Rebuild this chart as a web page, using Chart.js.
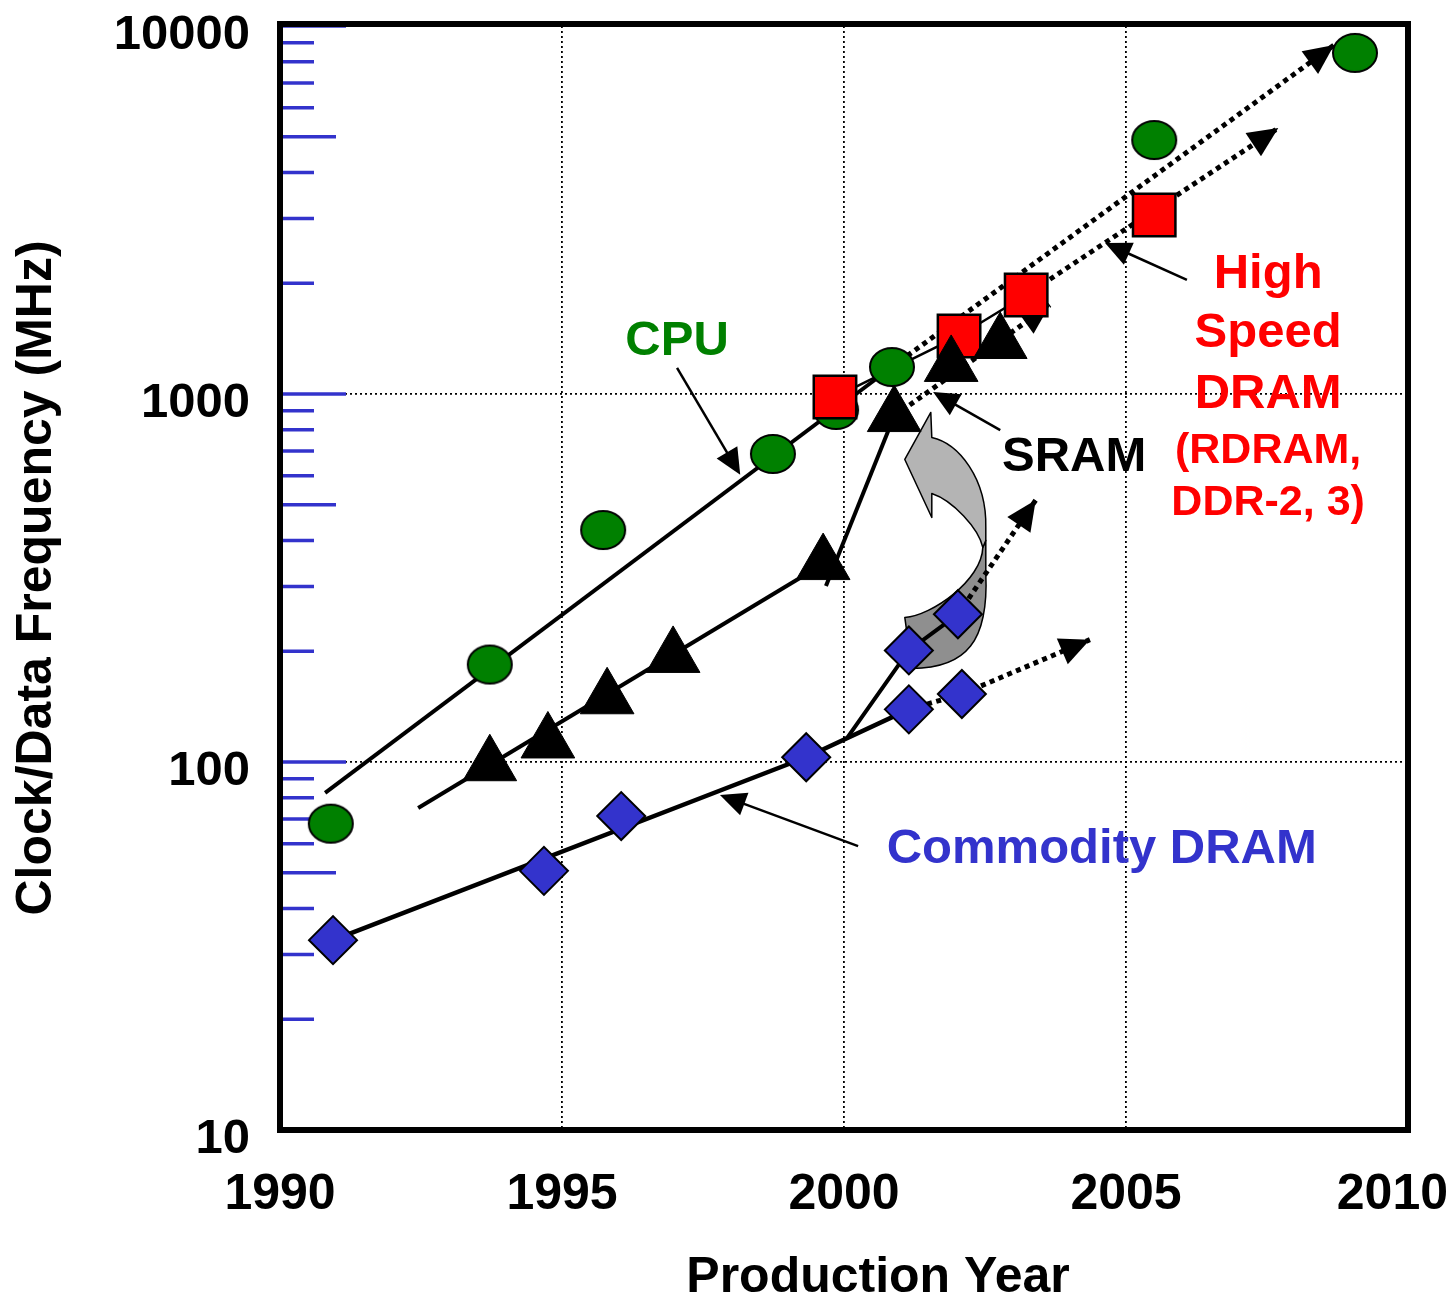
<!DOCTYPE html>
<html>
<head>
<meta charset="utf-8">
<script src="https://cdn.jsdelivr.net/npm/chart.js@4.4.1/dist/chart.umd.min.js"></script>
<style>
  html, body { margin: 0; padding: 0; background: #fff; }
  #wrap { width: 1451px; height: 1311px; position: relative; }
</style>
</head>
<body>
<div id="wrap"><canvas id="chart"></canvas></div>
<script>
// Frequência de clock/dados por ano de produção (escala log), CPU x SRAM x DRAM.
const yearTicks = [1990, 1995, 2000, 2005, 2010];
const freqTicks = [10, 100, 1000, 10000];
const minorTicks = [20, 30, 40, 50, 60, 70, 80, 90, 100,
  200, 300, 400, 500, 600, 700, 800, 900, 1000,
  2000, 3000, 4000, 5000, 6000, 7000, 8000, 9000, 10000];

const cpuYears = [1990.9, 1993.72, 1995.73, 1998.74, 1999.86, 2000.85, 2005.5, 2009.06];
const cpuMHz = [68, 184, 427, 687, 905, 1184, 4900, 8450];

const hsDramYears = [1999.84, 2002.04, 2003.23, 2005.5];
const hsDramMHz = [981, 1438, 1858, 3064];

const sramYears = [1993.72, 1994.75, 1995.8, 1996.97, 1999.63, 2000.89, 2001.9, 2002.77];
const sramMHz = [98, 113, 149, 193, 345, 871, 1192, 1376];

const dramYears = [1990.94, 1994.68, 1996.05, 1999.33, 2001.15, 2001.15, 2002.02, 2002.09];
const dramMHz = [32.8, 50.6, 71.3, 103, 201, 139, 252, 153];

// linhas de tendência e projeções: pares [ano, MHz]
const cpuTrend = [[1990.8, 82.4], [2000.85, 1184]];
const cpuProjection = [[2000.85, 1184], [2008.69, 8880]];
const hsDramTrend = [[1999.84, 981], [2002.04, 1438], [2003.23, 1858]];
const hsDramProjection = [[2003.23, 1858], [2007.7, 5283]];
const sramTrend = [[1992.45, 75], [1999.63, 345]];
const sramJump = [[1999.68, 301], [2000.89, 871]];
const sramProjection = [[2000.89, 871], [2003.65, 1745]];
const dramTrend = [[1990.94, 32.8], [1999.33, 103], [2001.15, 139]];
const dramBranch = [[2000.05, 116], [2001.15, 201], [2002.02, 252]];
const dramFastProjection = [[2002.02, 252], [2003.4, 515]];
const dramSlowProjection = [[2001.15, 139], [2002.09, 153], [2004.36, 215]];

const GREEN = '#008000', RED = '#ff0000', BLUE = '#3333cc';
const FONT = "'Liberation Sans', Arial, Helvetica, sans-serif";

const notes = [
  { text: 'CPU', at: [1997.04, 1393], color: GREEN, size: 49 },
  { text: 'SRAM', at: [2004.08, 674], color: '#000', size: 49 },
  { text: 'High', at: [2007.52, 2118], color: RED, size: 49 },
  { text: 'Speed', at: [2007.52, 1456], color: RED, size: 49 },
  { text: 'DRAM', at: [2007.52, 1000], color: RED, size: 49 },
  { text: '(RDRAM,', at: [2007.52, 700], color: RED, size: 43 },
  { text: 'DDR-2, 3)', at: [2007.52, 506], color: RED, size: 43 },
  { text: 'Commodity DRAM', at: [2004.57, 57.7], color: BLUE, size: 49 },
];
const pointers = [
  { from: [1997.04, 1177], to: [1998.16, 603] },
  { from: [2002.77, 798], to: [2001.58, 1013] },
  { from: [2006.08, 2041], to: [2004.63, 2572] },
  { from: [2000.25, 59.1], to: [1997.8, 81.4] },
];
// seta curva cinza (DRAM -> SRAM), desenhada em px a partir de uma âncora [ano, MHz]
const swapAnchor = [2002, 400];

const pts = (xs, ys) => xs.map((x, i) => ({ x, y: ys[i] }));
const seg = arr => arr.map(([x, y]) => ({ x, y }));
const P = (chart, [x, y]) => ({ x: chart.scales.x.getPixelForValue(x), y: chart.scales.y.getPixelForValue(y) });

function ellipseMarker(rx, ry, fill) {
  const c = document.createElement('canvas');
  c.width = rx * 2 + 4; c.height = ry * 2 + 4;
  const g = c.getContext('2d');
  g.beginPath();
  g.ellipse(c.width / 2, c.height / 2, rx, ry, 0, 0, Math.PI * 2);
  g.fillStyle = fill; g.fill();
  g.lineWidth = 2; g.strokeStyle = '#000'; g.stroke();
  return c;
}

function lineSet(data, width, dotted, arrow, order) {
  return {
    data: seg(data), showLine: true, borderColor: '#000', borderWidth: width,
    borderDash: dotted ? [5, 4.5] : [], borderCapStyle: 'butt', pointRadius: 0,
    tension: 0, fill: false, order, arrow,
  };
}

function arrowHead(ctx, from, to, len, half) {
  const a = Math.atan2(to.y - from.y, to.x - from.x);
  const bx = to.x - len * Math.cos(a), by = to.y - len * Math.sin(a);
  ctx.beginPath();
  ctx.moveTo(to.x, to.y);
  ctx.lineTo(bx + half * Math.sin(a), by - half * Math.cos(a));
  ctx.lineTo(bx - half * Math.sin(a), by + half * Math.cos(a));
  ctx.closePath();
  ctx.fill();
}

function drawSwapArrow(chart) {
  const { ctx } = chart;
  const o = P(chart, swapAnchor);
  const m = (dx, dy) => [o.x + dx, o.y + dy];
  ctx.save();
  ctx.lineWidth = 1.5; ctx.strokeStyle = '#000'; ctx.lineJoin = 'round';
  // metade de baixo, mais escura
  ctx.beginPath();
  ctx.moveTo(...m(29, 0));
  ctx.lineTo(...m(29, 33));
  ctx.bezierCurveTo(...m(32, 100), ...m(10, 128), ...m(-45, 128));
  ctx.lineTo(...m(-52, 77));
  ctx.bezierCurveTo(...m(-25, 75), ...m(25, 40), ...m(26, 7));
  ctx.closePath();
  ctx.fillStyle = '#8f8f8f'; ctx.fill(); ctx.stroke();
  // metade de cima, clara, com a ponta
  ctx.beginPath();
  ctx.moveTo(...m(-26, -128));
  ctx.lineTo(...m(-25, -103));
  ctx.bezierCurveTo(...m(2, -97), ...m(30, -62), ...m(29, -13));
  ctx.lineTo(...m(29, 0));
  ctx.lineTo(...m(26, 7));
  ctx.bezierCurveTo(...m(22, -12), ...m(-4, -40), ...m(-25, -47));
  ctx.lineTo(...m(-25, -23));
  ctx.lineTo(...m(-52, -81));
  ctx.closePath();
  ctx.fillStyle = '#b4b4b4'; ctx.fill(); ctx.stroke();
  ctx.restore();
}

const overlay = {
  id: 'overlay',
  beforeDatasetsDraw(chart) {
    const { ctx, chartArea: a, scales: { y } } = chart;
    ctx.save();
    ctx.strokeStyle = BLUE; ctx.lineWidth = 3.5;
    minorTicks.forEach(v => {
      const py = y.getPixelForValue(v);
      const lg = Math.log10(v);
      const len = Math.abs(lg - Math.round(lg)) < 1e-9 ? 66 : (String(v)[0] === '5' ? 56 : 34);
      ctx.beginPath(); ctx.moveTo(a.left, py); ctx.lineTo(a.left + len, py); ctx.stroke();
    });
    ctx.restore();
    drawSwapArrow(chart);
  },
  afterDatasetDraw(chart, args) {
    const ds = chart.data.datasets[args.index];
    if (!ds.arrow) return;
    const els = args.meta.data;
    const ctx = chart.ctx;
    ctx.save();
    ctx.fillStyle = '#000';
    arrowHead(ctx, els[els.length - 2], els[els.length - 1], 30, 14);
    ctx.restore();
  },
  afterDraw(chart) {
    const { ctx, chartArea: a, scales: { x } } = chart;
    ctx.save();
    // moldura
    ctx.strokeStyle = '#000'; ctx.lineWidth = 6;
    ctx.strokeRect(a.left, a.top - 2, a.right - a.left, a.bottom - a.top + 2);
    // setas de indicação
    ctx.lineWidth = 2.5; ctx.fillStyle = '#000';
    pointers.forEach(p => {
      const f = P(chart, p.from), t = P(chart, p.to);
      const ang = Math.atan2(t.y - f.y, t.x - f.x);
      ctx.beginPath();
      ctx.moveTo(f.x, f.y);
      ctx.lineTo(t.x - 20 * Math.cos(ang), t.y - 20 * Math.sin(ang));
      ctx.stroke();
      arrowHead(ctx, f, t, 26, 12);
    });
    // rótulos das séries
    ctx.textAlign = 'center'; ctx.textBaseline = 'middle';
    notes.forEach(n => {
      const p = P(chart, n.at);
      ctx.font = `bold ${n.size}px ${FONT}`;
      ctx.fillStyle = n.color;
      ctx.fillText(n.text, p.x, p.y);
    });
    // anos no eixo x (mantidos dentro do canvas)
    ctx.font = `bold 50px ${FONT}`;
    ctx.fillStyle = '#000';
    yearTicks.forEach(v => {
      const label = String(v);
      const w = ctx.measureText(label).width;
      const cx = Math.min(x.getPixelForValue(v), chart.width - w / 2 - 3);
      ctx.fillText(label, cx, a.bottom + 65);
    });
    ctx.fillText('Production Year', (a.left + a.right) / 2 + 34, a.bottom + 148);
    ctx.restore();
  },
};

Chart.defaults.font.family = FONT;

new Chart(document.getElementById('chart'), {
  type: 'scatter',
  data: {
    datasets: [
      { data: pts(dramYears, dramMHz), pointStyle: 'rectRot', pointRadius: 24, backgroundColor: BLUE, borderColor: '#000', borderWidth: 2, order: 1 },
      { data: pts(sramYears, sramMHz), pointStyle: 'triangle', pointRadius: 31, backgroundColor: '#000', borderColor: '#000', borderWidth: 1, order: 2 },
      { data: pts(hsDramYears, hsDramMHz), pointStyle: 'rect', pointRadius: 30, backgroundColor: RED, borderColor: '#000', borderWidth: 2.5, order: 3 },
      { data: pts(cpuYears, cpuMHz), pointStyle: ellipseMarker(22, 19, GREEN), pointRadius: 22, order: 4 },
      lineSet(hsDramTrend, 2.5, false, false, 5),
      lineSet(cpuTrend, 4, false, false, 6),
      lineSet(cpuProjection, 5, true, true, 6),
      lineSet(hsDramProjection, 5, true, true, 6),
      lineSet(sramTrend, 4, false, false, 6),
      lineSet(sramJump, 4, false, false, 6),
      lineSet(sramProjection, 5, true, true, 6),
      lineSet(dramTrend, 4.5, false, false, 6),
      lineSet(dramBranch, 4, false, false, 6),
      lineSet(dramFastProjection, 5, true, true, 6),
      lineSet(dramSlowProjection, 5, true, true, 6),
    ],
  },
  options: {
    responsive: true, maintainAspectRatio: false, animation: false, events: [],
    devicePixelRatio: 1,
    layout: { autoPadding: false, padding: { top: 26, right: 43, left: 0, bottom: 0 } },
    plugins: { legend: { display: false }, tooltip: { enabled: false } },
    scales: {
      x: {
        type: 'linear', min: 1990, max: 2010,
        afterBuildTicks: s => { s.ticks = yearTicks.map(v => ({ value: v })); },
        afterFit: s => { s.height = 181; s.paddingLeft = 0; s.paddingRight = 0; },
        ticks: { display: false },
        grid: {
          color: c => (c.tick && (c.tick.value === 1990 || c.tick.value === 2010)) ? 'rgba(0,0,0,0)' : '#000',
          lineWidth: 1.8, drawTicks: false, tickLength: 0,
        },
        border: { display: false, dash: [2, 3] },
      },
      y: {
        type: 'logarithmic', min: 10, max: 10000,
        afterBuildTicks: s => { s.ticks = freqTicks.map(v => ({ value: v })); },
        afterFit: s => { s.width = 280; s.paddingTop = 0; s.paddingBottom = 0; },
        ticks: { callback: v => String(v), color: '#000', font: { size: 49, weight: 'bold' }, padding: 30, labelOffset: 9 },
        grid: {
          color: c => (c.tick && (c.tick.value === 100 || c.tick.value === 1000)) ? '#000' : 'rgba(0,0,0,0)',
          lineWidth: 1.8, drawTicks: false, tickLength: 0,
        },
        border: { display: false, dash: [2, 3] },
        title: { display: true, text: 'Clock/Data Frequency (MHz)', color: '#000', font: { size: 50, weight: 'bold' }, padding: { top: 7, bottom: 0 } },
      },
    },
  },
  plugins: [overlay],
});
</script>
</body>
</html>
